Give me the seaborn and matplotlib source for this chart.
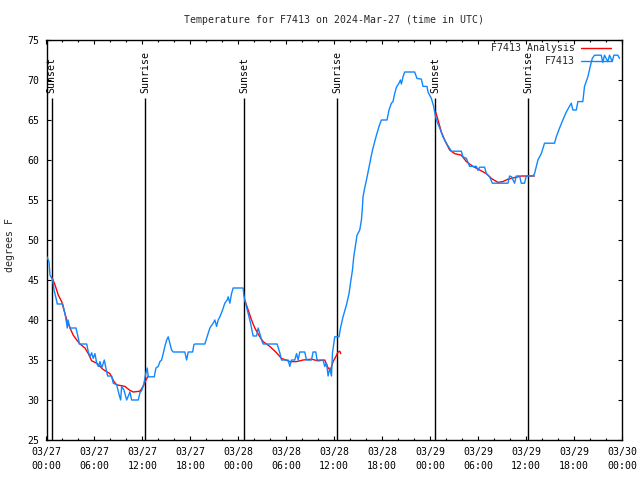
import numpy as np
import pandas as pd
import matplotlib
matplotlib.use("Agg")
import matplotlib.pyplot as plt
import matplotlib.dates as mdates
import seaborn as sns

start = pd.Timestamp("2024-03-27 00:00")

# Observed temperature (hours since start, deg F)
obs_hours = [0.0, 0.31, 0.44, 0.78, 0.94, 1.19, 1.35, 2.03, 2.1, 2.35, 2.6, 2.69, 2.94, 3.69, 4.03, 4.1,
             5.03, 5.23, 5.44, 5.65, 5.85, 6.06, 6.28, 6.48, 6.69, 6.9, 7.23, 7.53, 7.65, 8.15, 8.35, 8.78,
             9.1, 9.28, 9.4, 9.69, 10.03, 10.44, 10.65, 11.48, 11.69, 11.94, 12.19, 12.44, 12.6, 12.73,
             13.48, 13.69, 13.98, 14.19, 14.4, 14.6, 14.81, 15.03, 15.23, 15.44, 15.65, 15.85, 17.31, 17.53,
             17.73, 18.28, 18.44, 18.56, 19.81, 20.03, 20.23, 20.44, 20.85, 21.06, 21.28, 21.48, 21.69,
             22.03, 22.31, 22.6, 22.73, 22.94, 23.15, 23.35, 24.6, 24.69, 24.81, 25.23, 25.53, 25.85,
             26.28, 26.48, 26.69, 26.9, 27.1, 28.85, 29.19, 29.4, 30.23, 30.44, 30.65, 31.06, 31.28,
             31.48, 31.69, 32.31, 32.53, 33.15, 33.35, 33.69, 33.85, 34.6, 34.81, 35.03, 35.23, 35.44,
             35.65, 35.78, 36.06, 36.6, 36.78, 37.1, 37.53, 37.85, 38.03, 38.28, 38.44, 38.69, 38.85,
             39.19, 39.4, 39.53, 39.6, 39.81, 40.03, 40.23, 40.44, 40.65, 40.85, 41.06, 41.28, 41.6,
             41.9, 42.6, 42.85, 43.15, 43.35, 43.56, 43.78, 44.1, 44.28, 44.4, 44.6, 44.81, 46.06, 46.35,
             46.9, 47.1, 47.6, 47.73, 48.15, 48.44, 48.56, 48.78, 49.19, 49.6, 50.03, 50.65, 51.9, 52.1,
             52.53, 52.94, 53.78, 53.98, 54.19, 54.81, 55.03, 55.44, 55.78, 57.73, 57.94, 58.19, 58.56,
             58.78, 59.19, 59.4, 59.81, 60.03, 60.85, 61.06, 61.48, 61.9, 62.31, 63.56, 63.78, 64.19,
             64.6, 65.03, 65.65, 65.85, 66.28, 66.48, 67.1, 67.31, 67.73, 68.03, 68.28, 68.56, 69.4,
             69.6, 69.81, 70.23, 70.44, 70.78, 70.98, 71.48, 71.69]
obs_temp = [48, 47.3, 45.6, 45, 43.75, 42.75, 42, 42, 41.7, 40.6, 39, 40, 39, 39, 37.5, 37,
            37, 36, 35.4, 35.9, 35.2, 35.8, 34.6, 34.2, 34.8, 34, 35, 33.5, 33, 33, 32.1, 31.9,
            30.6, 30, 31.7, 31.25, 30, 31, 30, 30, 30.9, 31.25, 32.1, 33.4, 34, 32.9,
            32.9, 34, 34.2, 34.8, 35, 35.8, 36.7, 37.5, 37.9, 37.1, 36.25, 36, 36, 35,
            36, 36, 36.9, 37, 37, 37.7, 38.3, 39, 39.6, 40, 39.2, 40, 40.4,
            41.25, 42.1, 42.5, 42.9, 42.1, 43.3, 44, 44, 43.1, 42.5, 40.8, 39.6, 38,
            38, 39, 38.3, 37.5, 37, 37, 35.9, 35, 35, 34.2, 35, 35, 35.8,
            35, 36, 36, 35, 35, 36, 36, 35, 35, 34.2, 34.6, 33, 34,
            33, 35.9, 37.9, 37.9, 39, 40.4, 41.9, 43.3, 44.6, 46.25, 47.9, 49.6, 50.6,
            51.25, 52.5, 54.2, 55.4, 56.5, 57.5, 58.5, 59.6, 60.6, 61.5, 62.3, 63.1, 64.2,
            65, 65, 66.25, 67.1, 67.3, 68.3, 69.1, 69.6, 70, 69.5, 70.4, 71, 71, 70.2,
            70.1, 69.2, 69.2, 68.5, 67.7, 66.7, 66, 65, 64, 62.9, 62.1, 61.1, 61.1, 60.4,
            60.2, 59.2, 59.2, 58.7, 59.1, 59.1, 58.3, 57.9, 57.1, 57.1, 58, 57.9, 57.1,
            58, 58, 57.1, 57.1, 58, 58, 58.3, 60, 60.8, 62.1, 62.1, 62.9, 64,
            65, 66, 67.1, 66.25, 66.25, 67.3, 67.3, 69.2, 70.4, 71.7, 72.7, 73.1, 73.1,
            72.2, 73.1, 72.3, 73.1, 72.3, 73.1, 73.1, 72.7]

# Analysis (three night segments)
ana1_hours = [0.65, 1.06, 1.48, 1.9, 2.19, 2.53, 2.94, 3.35, 3.78, 4.19, 4.81, 5.23, 5.65, 6.28,
              7.1, 7.94, 8.44, 8.78, 9.81, 10.44, 10.85, 11.69, 12.1, 12.44, 12.73]
ana1_temp = [45.4, 44.4, 43.1, 42.3, 41.25, 40, 39, 38.1, 37.5, 37, 36.5, 35.8, 34.9, 34.6,
             33.8, 33.3, 32.3, 31.9, 31.7, 31.2, 31, 31.1, 31.7, 32.5, 33]
ana2_hours = [24.81, 25.23, 25.65, 26.06, 26.69, 27.1, 27.94, 28.78, 29.4, 30.44, 31.28, 32.1,
              33.15, 33.98, 34.81, 35.23, 35.53, 35.85, 36.19, 36.48, 36.69, 36.81]
ana2_temp = [42.5, 41.25, 40, 39, 37.9, 37.3, 36.7, 35.9, 35.2, 34.8, 34.8, 35,
             35.1, 34.9, 35, 34, 33.75, 34.8, 35.4, 36, 36.1, 35.8]
ana3_hours = [48.69, 48.98, 49.4, 49.81, 50.44, 51.06, 51.9, 52.53, 53.35, 54.19, 55.03, 55.65,
              56.48, 57.1, 57.73, 58.56, 59.4, 60.23, 61.06]
ana3_temp = [66, 65, 63.5, 62.5, 61.25, 60.8, 60.6, 59.8, 59.2, 58.75, 58.3, 57.7,
             57.2, 57.3, 57.6, 57.8, 58, 58, 58]

sun_hours = [0.66, 12.35, 24.72, 36.35, 48.6, 60.23]
sun_labels = ["Sunset", "Sunrise", "Sunset", "Sunrise", "Sunset", "Sunrise"]

title = "Temperature for F7413 on 2024-Mar-27 (time in UTC)"
ylabel = "degrees F"
obs_name = "F7413"
ana_name = "F7413 Analysis"

BLUE = "#0f87ff"
RED = "#ff0000"
FONT = "DejaVu Sans Mono"
FS = 7.1

sns.set_style("ticks")
plt.rcParams["font.family"] = [FONT, "DejaVu Sans"]

def to_time(h):
    return start + pd.to_timedelta(np.array(h, dtype=float), unit="h")

fig = plt.figure(figsize=(6.4, 4.8), dpi=100)
ax = fig.add_axes([46.5 / 640, 40 / 480, 575.5 / 640, 400 / 480])

first = True
for hh, tt in [(ana1_hours, ana1_temp), (ana2_hours, ana2_temp), (ana3_hours, ana3_temp)]:
    df = pd.DataFrame({"time": to_time(hh), "temp": tt})
    sns.lineplot(data=df, x="time", y="temp", ax=ax, color=RED, lw=1.0,
                 estimator=None, sort=False, label=ana_name if first else None, zorder=3)
    first = False

dfo = pd.DataFrame({"time": to_time(obs_hours), "temp": obs_temp})
sns.lineplot(data=dfo, x="time", y="temp", ax=ax, color=BLUE, lw=1.0,
             estimator=None, sort=False, label=obs_name, zorder=4)

sun_times = to_time(sun_hours)
ax.vlines(sun_times, 25, 67.75, colors="black", lw=1.0, zorder=2)
for t, lab in zip(sun_times, sun_labels):
    ax.text(t, 68.4, lab, rotation=90, ha="center", va="bottom", fontsize=FS,
            family=FONT, color="black")

ax.set_xlim(to_time([0])[0], to_time([72])[0])
ax.set_ylim(25, 75)
ax.set_yticks(np.arange(25, 76, 5))
ax.xaxis.set_major_locator(mdates.HourLocator(byhour=[0, 6, 12, 18]))
ax.xaxis.set_minor_locator(mdates.HourLocator(interval=2))
ax.xaxis.set_major_formatter(mdates.DateFormatter("%m/%d\n%H:%M"))

for s in ax.spines.values():
    s.set_visible(True)
    s.set_color("black")
    s.set_linewidth(1.0)
ax.tick_params(which="both", direction="in", top=True, right=True, colors="black",
               labelsize=FS, width=0.8)
ax.tick_params(which="major", length=3.0, pad=5)
ax.tick_params(which="minor", length=1.6)
ax.tick_params(axis="x", which="major", pad=5)
for lbl in ax.get_xticklabels() + ax.get_yticklabels():
    lbl.set_family(FONT)
    lbl.set_linespacing(1.45)

ax.set_xlabel("")
ax.set_ylabel("")
fig.text(334 / 640, 1 - 20 / 480, title, ha="center", va="center", fontsize=FS, family=FONT)
fig.text(10 / 640, 0.5 - 5 / 480, ylabel, rotation=90, ha="center", va="center",
         fontsize=FS, family=FONT)

leg = ax.legend(loc="upper right", bbox_to_anchor=(611 / 640, 1 - 43 / 480),
                bbox_transform=fig.transFigure, frameon=False, markerfirst=False,
                handlelength=3.0, handletextpad=0.7, labelspacing=0.35,
                borderpad=0, borderaxespad=0, prop={"family": FONT, "size": FS})

fig.savefig("out.png", dpi=100)
